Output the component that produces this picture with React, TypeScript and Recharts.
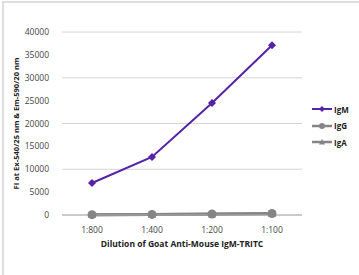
import { LineChart, Line, XAxis, YAxis, CartesianGrid, Label } from 'recharts';

const dilutions = ['1:800', '1:400', '1:200', '1:100'];
const igm = [7000, 12700, 24500, 37100];
const igg = [80, 130, 230, 330];
const iga = [50, 90, 170, 260];
const yTicks = [0, 5000, 10000, 15000, 20000, 25000, 30000, 35000, 40000];

const data = dilutions.map((name, i) => ({
  name,
  IgM: igm[i],
  IgG: igg[i],
  IgA: iga[i],
}));

const PURPLE = '#5522a8';
const GRAY = '#858585';
const FONT = '"Open Sans", "DejaVu Sans", sans-serif';

const Diamond = (props: any) => {
  const { cx, cy, fill } = props;
  if (cx == null || cy == null) return null;
  const s = 4;
  return (
    <path
      d={`M${cx},${cy - s} L${cx + s},${cy} L${cx},${cy + s} L${cx - s},${cy} Z`}
      fill={fill}
    />
  );
};

const Circle = (props: any) => {
  const { cx, cy, fill } = props;
  if (cx == null || cy == null) return null;
  return <circle cx={cx} cy={cy} r={4.5} fill={fill} />;
};

const Triangle = (props: any) => {
  const { cx, cy, fill } = props;
  if (cx == null || cy == null) return null;
  const s = 4;
  return <path d={`M${cx},${cy - s} L${cx + s},${cy + s * 0.8} L${cx - s},${cy + s * 0.8} Z`} fill={fill} />;
};

const legendItems = [
  { name: 'IgM', color: PURPLE, shape: 'diamond' },
  { name: 'IgG', color: GRAY, shape: 'circle' },
  { name: 'IgA', color: GRAY, shape: 'triangle' },
];

export default function App() {
  return (
    <div
      style={{
        position: 'fixed',
        top: 0,
        left: 0,
        width: 359,
        height: 275,
        background: '#fff',
      }}
    >
      <div
        style={{
          position: 'absolute',
          top: 1,
          left: 2,
          right: 0,
          bottom: 0,
          borderTop: '2px solid #dedede',
          borderLeft: '2px solid #dedede',
        }}
      />
      <LineChart
        width={359}
        height={275}
        data={data}
        margin={{ top: 32, right: 57, bottom: 0, left: 0 }}
        style={{ position: 'absolute', top: 0, left: 0 }}
      >
        <CartesianGrid vertical={false} stroke="#d4d4d4" strokeWidth={1} />
        <XAxis
          dataKey="name"
          height={60}
          padding={{ left: 30, right: 30 }}
          tickLine={false}
          axisLine={{ stroke: '#aaaaaa' }}
          tick={{ fontSize: 8.5, fill: '#444', fontFamily: FONT }}
          tickMargin={6}
        >
          <Label
            value="Dilution of Goat Anti-Mouse IgM-TRITC"
            position="insideTop"
            offset={26}
            style={{ fontSize: 8.5, fontWeight: 700, fill: '#222', fontFamily: FONT }}
          />
        </XAxis>
        <YAxis
          width={62}
          domain={[0, 40000]}
          ticks={yTicks}
          tickLine={false}
          axisLine={false}
          tick={{ fontSize: 8.5, fill: '#444', fontFamily: FONT }}
          tickMargin={7}
        >
          <Label
            value="FI at Ex-540/25 nm & Em-590/20 nm"
            angle={-90}
            position="insideLeft"
            offset={16}
            style={{ textAnchor: 'middle', fontSize: 7.6, fontWeight: 700, fill: '#222', fontFamily: FONT }}
          />
        </YAxis>
        <Line
          dataKey="IgA"
          stroke={GRAY}
          strokeWidth={3}
          dot={<Triangle fill={GRAY} />}
          isAnimationActive={false}
        />
        <Line
          dataKey="IgG"
          stroke={GRAY}
          strokeWidth={3}
          dot={<Circle fill={GRAY} />}
          isAnimationActive={false}
        />
        <Line
          dataKey="IgM"
          stroke={PURPLE}
          strokeWidth={2}
          dot={<Diamond fill={PURPLE} />}
          isAnimationActive={false}
        />
      </LineChart>
      <div
        style={{
          position: 'absolute',
          left: 312,
          top: 101,
          fontFamily: FONT,
          fontSize: 8,
          fontWeight: 700,
          color: '#222',
        }}
      >
        {legendItems.map((it) => (
          <div key={it.name} style={{ display: 'flex', alignItems: 'center', height: 16.5 }}>
            <svg width={22} height={10}>
              <line x1={0} y1={5} x2={20} y2={5} stroke={it.color} strokeWidth={it.shape === 'diamond' ? 2 : 2.5} />
              {it.shape === 'diamond' && <path d="M10,2 L13,5 L10,8 L7,5 Z" fill={it.color} />}
              {it.shape === 'circle' && <circle cx={10} cy={5} r={3} fill={it.color} />}
              {it.shape === 'triangle' && <path d="M10,2 L13,7.5 L7,7.5 Z" fill={it.color} />}
            </svg>
            <span>{it.name}</span>
          </div>
        ))}
      </div>
    </div>
  );
}
